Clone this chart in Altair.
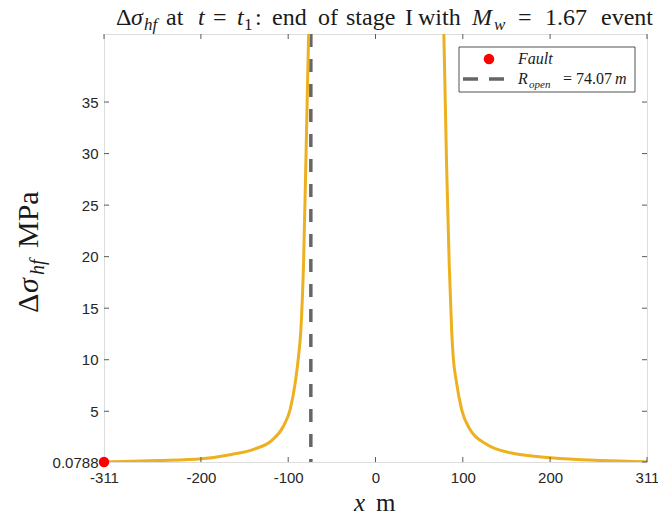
import altair as alt
import pandas as pd

# ---- data ----
left_x = [-311, -250, -199, -165, -138, -119, -105.5, -97.8, -92, -88.2, -85.5, -82.4, -79.8, -76.6]
left_y = [0.0788, 0.22, 0.4, 0.81, 1.36, 2.16, 3.55, 5.16, 7.75, 10.3, 12.9, 19.4, 29.0, 41.6]
right_x = [78.3, 81.4, 84.4, 87.2, 89, 92.9, 98.7, 108.3, 127.6, 154.6, 200.8, 258.6, 311]
right_y = [41.6, 29.0, 19.4, 12.9, 10.3, 7.75, 5.16, 3.23, 1.78, 0.97, 0.49, 0.22, 0.1]
fault_x = [-311]
fault_y = [0.0788]
r_open = [-74.07]
x_ticks = [-311, -200, -100, 0, 100, 200, 311]
y_ticks = [0.0788, 5, 10, 15, 20, 25, 30, 35]
x_domain = [-311, 311]
y_domain = [0.0788, 41.6]

W, H = 543, 428
SERIF = "Liberation Serif"
SANS = "Liberation Sans"
AXC = "#5a5a5a"
TXT = "#1a1a1a"

curve = pd.concat([
    pd.DataFrame({"x": left_x, "y": left_y, "branch": "left"}),
    pd.DataFrame({"x": right_x, "y": right_y, "branch": "right"}),
])
one = pd.DataFrame({"a": [0]})

xs = alt.Scale(domain=x_domain, nice=False, zero=False)
ys = alt.Scale(domain=y_domain, nice=False, zero=False)

xaxis = alt.Axis(values=x_ticks, title=None, ticks=False, domain=False, grid=False,
                 labelFont=SANS, labelFontSize=15, labelColor="#262626", labelPadding=8,
                 labelExpr="'' + datum.value", labelFlush=False)
yaxis = alt.Axis(values=y_ticks, title=None, ticks=False, domain=False, grid=False,
                 labelFont=SANS, labelFontSize=15, labelColor="#262626", labelPadding=6,
                 labelExpr="'' + datum.value")

line = alt.Chart(curve).mark_line(color="#EDB120", strokeWidth=3, clip=True,
                                  interpolate="monotone").encode(
    x=alt.X("x:Q", scale=xs, axis=xaxis),
    y=alt.Y("y:Q", scale=ys, axis=yaxis),
    detail="branch:N",
)

vline = alt.Chart(pd.DataFrame({"x": r_open})).mark_rule(
    color="#666666", strokeWidth=3.5, strokeDash=[13, 12]).encode(
    x=alt.X("x:Q", scale=xs),
)

fault = alt.Chart(pd.DataFrame({"x": fault_x, "y": fault_y})).mark_point(
    filled=True, color="#FF0000", size=110, opacity=1, clip=False).encode(
    x=alt.X("x:Q", scale=xs), y=alt.Y("y:Q", scale=ys))

xt = pd.DataFrame({"x": x_ticks})
yt = pd.DataFrame({"y": y_ticks})
tick_layers = [
    alt.Chart(xt).mark_rule(color=AXC, strokeWidth=1).encode(
        x=alt.X("x:Q", scale=xs), y=alt.value(H), y2=alt.value(H - 5)),
    alt.Chart(xt).mark_rule(color=AXC, strokeWidth=1).encode(
        x=alt.X("x:Q", scale=xs), y=alt.value(0), y2=alt.value(5)),
    alt.Chart(yt).mark_rule(color=AXC, strokeWidth=1).encode(
        y=alt.Y("y:Q", scale=ys), x=alt.value(0), x2=alt.value(5)),
    alt.Chart(yt).mark_rule(color=AXC, strokeWidth=1).encode(
        y=alt.Y("y:Q", scale=ys), x=alt.value(W), x2=alt.value(W - 5)),
]


def txt(s, x, y, size, style="normal", angle=0, font=SERIF):
    return alt.Chart(one).mark_text(
        text=s, font=font, fontSize=size, fontStyle=style, align="left",
        baseline="alphabetic", angle=angle, color=TXT).encode(
        x=alt.value(x), y=alt.value(y))


# title pieces (plot-area pixel coordinates)
TB = -9
TS = 24
SS = 17
title = [
    txt("\u0394", 12, TB, TS),
    txt("\u03c3", 27, TB, TS, "italic"),
    txt("hf", 40, TB + 5, SS, "italic"),
    txt("at", 62, TB, TS),
    txt("t", 94, TB, TS, "italic"),
    txt("=", 109, TB, TS),
    txt("t", 133, TB, TS, "italic"),
    txt("1", 140, TB + 5, SS),
    txt(":", 151, TB, TS),
    txt("end", 168, TB, TS),
    txt("of", 214, TB, TS),
    txt("stage", 242, TB, TS),
    txt("I", 301, TB, TS),
    txt("with", 314, TB, TS),
    txt("M", 368, TB, TS, "italic"),
    txt("w", 390, TB + 5, SS, "italic"),
    txt("=", 414, TB, TS),
    txt("1.67", 441, TB, TS),
    txt("event", 497, TB, TS),
]

# x label
xlab = [
    txt("x", 250, 477, 25, "italic"),
    txt("m", 272, 477, 25),
]

# y label (rotated)
YB = -66
ylab = [
    txt("\u0394", YB, 279, 30, angle=270),
    txt("\u03c3", YB, 259, 30, "italic", angle=270),
    txt("hf", YB + 6, 241, 20, "italic", angle=270),
    txt("MPa", YB, 214, 30, angle=270),
]

# legend
box = alt.Chart(one).mark_rect(fill="white", stroke="#262626", strokeWidth=0.8).encode(
    x=alt.value(355), x2=alt.value(531), y=alt.value(13), y2=alt.value(58))
leg_dot = alt.Chart(one).mark_point(filled=True, color="#FF0000", size=110, opacity=1).encode(
    x=alt.value(385), y=alt.value(25))
leg_dash = alt.Chart(one).mark_rule(color="#666666", strokeWidth=3.5, strokeDash=[15, 11]).encode(
    x=alt.value(359), x2=alt.value(401), y=alt.value(45))
legend = [
    box, leg_dot, leg_dash,
    txt("Fault", 414, 30, 16, "italic"),
    txt("R", 414, 50, 16, "italic"),
    txt("open", 425, 54, 11, "italic"),
    txt("= 74.07", 459, 50, 16),
    txt("m", 511, 50, 16, "italic"),
]

chart = alt.layer(
    vline, line, *tick_layers, fault, *legend, *title, *xlab, *ylab
).properties(
    width=W, height=H,
    padding={"left": 104, "top": 34, "right": 11, "bottom": 58},
    autosize=alt.AutoSizeParams(type="none"),
).configure_view(
    stroke=AXC, strokeWidth=1
).configure(background="white")

chart.save("out.html", embed_options={"renderer": "svg", "actions": False})
